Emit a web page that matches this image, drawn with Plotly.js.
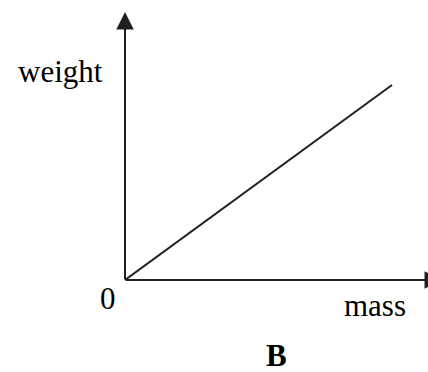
<!DOCTYPE html>
<html>
<head>
<meta charset="utf-8">
<script src="https://cdn.plot.ly/plotly-3.0.1.min.js"></script>
<style>html,body{margin:0;padding:0;background:#fff;}#chart{width:428px;height:372px;}</style>
</head>
<body>
<div id="chart"></div>
<script>
// Schematic data: weight is proportional to mass (line through origin)
const mass = [0, 8];
const weight = [0, 6];
const xLabel = 'mass';
const yLabel = 'weight';
const originLabel = '0';
const panelLabel = 'B';

const W = 428, H = 372;
const L = 125, B = 92, T = 0, R = 0;
const plotW = W - L - R, plotH = H - T - B;
const xMax = 9.079, yMax = 8.615;
// pixel -> paper helpers for label placement
const px = v => (v - L) / plotW;
const py = v => (H - B - v) / plotH;

const ink = '#231f20';
const font = {family: 'Liberation Serif, Times New Roman, serif', size: 31, color: '#000'};

const trace = {
  x: mass, y: weight, type: 'scatter', mode: 'lines',
  line: {color: ink, width: 2}, hoverinfo: 'skip'
};

const arrow = (x, y) => ({
  x: x, y: y, xref: 'x', yref: 'y', ax: 0, ay: 0, axref: 'x', ayref: 'y',
  text: '', showarrow: true, arrowhead: 2, arrowsize: 1.75, arrowwidth: 2,
  arrowcolor: ink, standoff: 0, borderpad: 0
});

const label = (text, x, y, extra) => Object.assign({
  text: text, xref: 'paper', yref: 'paper', x: px(x), y: py(y),
  xanchor: 'center', yanchor: 'middle', showarrow: false, font: font
}, extra || {});

const layout = {
  width: W, height: H,
  margin: {l: L, r: R, t: T, b: B, pad: 0},
  paper_bgcolor: '#fff', plot_bgcolor: '#fff',
  showlegend: false,
  xaxis: {range: [0, xMax], visible: false, fixedrange: true},
  yaxis: {range: [0, yMax], visible: false, fixedrange: true},
  annotations: [
    arrow(0, (280 - 12) / 32.5),
    arrow((442 - 125) / 33.375, 0),
    label(yLabel, 60.5, 71),
    label(originLabel, 108, 298),
    label(xLabel, 374.5, 305.5),
    label('<b>' + panelLabel + '</b>', 276.5, 355)
  ]
};

Plotly.newPlot('chart', [trace], layout, {staticPlot: true, displayModeBar: false});
</script>
</body>
</html>
